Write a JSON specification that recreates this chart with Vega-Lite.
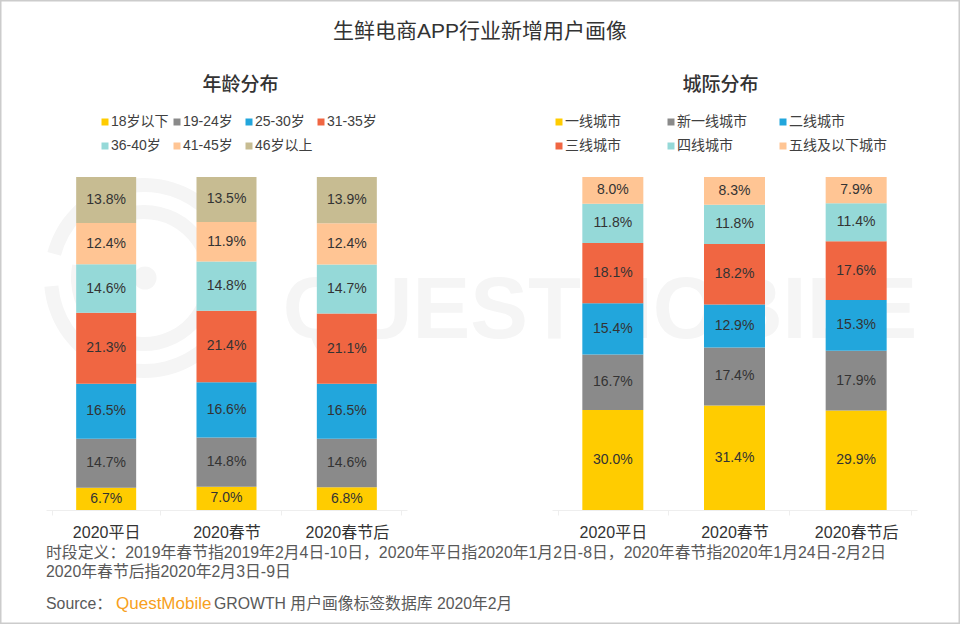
{"$schema":"https://vega.github.io/schema/vega-lite/v6.json","padding":0,"background":"#ffffff","width":960,"height":624,"view":{"stroke":"#cccccc","strokeWidth":3},"config":{"font":"Liberation Sans, Noto Sans CJK SC","text":{"font":"Liberation Sans, Noto Sans CJK SC"},"title":{"font":"Liberation Sans, Noto Sans CJK SC"}},"title":{"text":"生鲜电商APP行业新增用户画像","orient":"top","frame":"group","anchor":"middle","offset":0,"dy":53,"baseline":"middle","fontSize":21,"fontWeight":"normal","color":"#333333"},"datasets":{"mark":[{"mark":"QUESTMOBILE"}],"age":[{"period":"2020平日","group":"18岁以下","rank":1,"share":0.067},{"period":"2020平日","group":"19-24岁","rank":2,"share":0.147},{"period":"2020平日","group":"25-30岁","rank":3,"share":0.165},{"period":"2020平日","group":"31-35岁","rank":4,"share":0.213},{"period":"2020平日","group":"36-40岁","rank":5,"share":0.146},{"period":"2020平日","group":"41-45岁","rank":6,"share":0.124},{"period":"2020平日","group":"46岁以上","rank":7,"share":0.138},{"period":"2020春节","group":"18岁以下","rank":1,"share":0.07},{"period":"2020春节","group":"19-24岁","rank":2,"share":0.148},{"period":"2020春节","group":"25-30岁","rank":3,"share":0.166},{"period":"2020春节","group":"31-35岁","rank":4,"share":0.214},{"period":"2020春节","group":"36-40岁","rank":5,"share":0.148},{"period":"2020春节","group":"41-45岁","rank":6,"share":0.119},{"period":"2020春节","group":"46岁以上","rank":7,"share":0.135},{"period":"2020春节后","group":"18岁以下","rank":1,"share":0.068},{"period":"2020春节后","group":"19-24岁","rank":2,"share":0.146},{"period":"2020春节后","group":"25-30岁","rank":3,"share":0.165},{"period":"2020春节后","group":"31-35岁","rank":4,"share":0.211},{"period":"2020春节后","group":"36-40岁","rank":5,"share":0.147},{"period":"2020春节后","group":"41-45岁","rank":6,"share":0.124},{"period":"2020春节后","group":"46岁以上","rank":7,"share":0.139}],"city":[{"period":"2020平日","group":"一线城市","rank":1,"share":0.3},{"period":"2020平日","group":"新一线城市","rank":2,"share":0.167},{"period":"2020平日","group":"二线城市","rank":3,"share":0.154},{"period":"2020平日","group":"三线城市","rank":4,"share":0.181},{"period":"2020平日","group":"四线城市","rank":5,"share":0.118},{"period":"2020平日","group":"五线及以下城市","rank":6,"share":0.08},{"period":"2020春节","group":"一线城市","rank":1,"share":0.314},{"period":"2020春节","group":"新一线城市","rank":2,"share":0.174},{"period":"2020春节","group":"二线城市","rank":3,"share":0.129},{"period":"2020春节","group":"三线城市","rank":4,"share":0.182},{"period":"2020春节","group":"四线城市","rank":5,"share":0.118},{"period":"2020春节","group":"五线及以下城市","rank":6,"share":0.083},{"period":"2020春节后","group":"一线城市","rank":1,"share":0.299},{"period":"2020春节后","group":"新一线城市","rank":2,"share":0.179},{"period":"2020春节后","group":"二线城市","rank":3,"share":0.153},{"period":"2020春节后","group":"三线城市","rank":4,"share":0.176},{"period":"2020春节后","group":"四线城市","rank":5,"share":0.114},{"period":"2020春节后","group":"五线及以下城市","rank":6,"share":0.079}],"foot":[{"line":"l1","part":"lead","text":"时段定义：2019年春节指2019年2月4日-10日，2020年平日指2020年1月2日-8日，2020年春节指2020年1月24日-2月2日"},{"line":"l2","part":"lead","text":"2020年春节后指2020年2月3日-9日"},{"line":"l3","part":"lead","text":"Source："},{"line":"l3","part":"qm","text":"QuestMobile"},{"line":"l3","part":"rest","text":"GROWTH 用户画像标签数据库 2020年2月"}]},"resolve":{"scale":{"x":"independent","y":"independent","color":"independent"},"axis":{"x":"independent","y":"independent"},"legend":{"color":"independent"}},"layer":[{"data":{"name":"mark"},"mark":{"type":"text","font":"Liberation Sans","fontWeight":"bold","fontSize":86.5,"color":"#f5f5f5","dx":120,"dy":0},"encoding":{"text":{"field":"mark","type":"nominal"}}},{"data":{"name":"mark"},"mark":{"type":"arc","color":"#f5f5f5","radius":100,"radius2":86,"theta":-1.309,"theta2":4.625,"xOffset":-336,"yOffset":-34}},{"data":{"name":"mark"},"mark":{"type":"arc","color":"#f5f5f5","radius":73,"radius2":59,"theta":-1.0,"theta2":4.9,"xOffset":-336,"yOffset":-34}},{"data":{"name":"mark"},"mark":{"type":"point","filled":true,"opacity":1,"shape":"circle","color":"#f5f5f5","size":531,"xOffset":-335,"yOffset":-34}},{"data":{"name":"age"},"encoding":{"x":{"field":"period","type":"nominal","sort":["2020平日","2020春节","2020春节后"],"scale":{"range":[46,407]},"axis":{"orient":"bottom","offset":-114,"title":"年龄分布","titleX":240,"titleY":-426,"titleBaseline":"middle","titleAlign":"center","titleFontSize":19,"titleFontWeight":500,"titleColor":"#333333","titleFont":"Liberation Sans, Noto Sans CJK SC","labelAngle":0,"tickBand":"extent","domainColor":"#eeeeee","tickColor":"#eeeeee","tickSize":5,"labelFontSize":16,"labelColor":"#333333","labelPadding":9,"labelFont":"Liberation Sans, Noto Sans CJK SC"}},"y":{"field":"share","type":"quantitative","stack":"zero","scale":{"domain":[0,1],"range":[510,177]},"axis":null},"order":{"field":"rank","type":"quantitative"}},"layer":[{"mark":{"type":"bar","width":60},"encoding":{"color":{"field":"group","type":"nominal","scale":{"domain":["18岁以下","19-24岁","25-30岁","31-35岁","36-40岁","41-45岁","46岁以上"],"range":["#FFCC00","#8A8A8A","#22A6DC","#F06642","#95D9D8","#FFC594","#C7BC92"]},"legend":{"title":null,"orient":"none","direction":"horizontal","legendX":98,"legendY":115,"columns":4,"gridAlign":"all","columnPadding":1,"rowPadding":10,"symbolType":"square","symbolSize":49,"symbolStrokeWidth":0,"labelFontSize":14,"labelColor":"#404040","labelLimit":200,"labelOffset":-1,"labelFont":"Liberation Sans, Noto Sans CJK SC"}}}},{"mark":{"type":"text","fontSize":14,"color":"#333333","font":"Liberation Sans, Noto Sans CJK SC"},"encoding":{"y":{"field":"share","type":"quantitative","stack":"zero","bandPosition":0.5,"scale":{"domain":[0,1],"range":[510,177]},"axis":null},"text":{"field":"share","type":"quantitative","format":".1%"},"detail":{"field":"group","type":"nominal"}}}]},{"data":{"name":"city"},"encoding":{"x":{"field":"period","type":"nominal","sort":["2020平日","2020春节","2020春节后"],"scale":{"range":[552,917]},"axis":{"orient":"bottom","offset":-114,"title":"城际分布","titleX":720,"titleY":-426,"titleBaseline":"middle","titleAlign":"center","titleFontSize":19,"titleFontWeight":500,"titleColor":"#333333","titleFont":"Liberation Sans, Noto Sans CJK SC","labelAngle":0,"tickBand":"extent","domainColor":"#eeeeee","tickColor":"#eeeeee","tickSize":5,"labelFontSize":16,"labelColor":"#333333","labelPadding":9,"labelFont":"Liberation Sans, Noto Sans CJK SC"}},"y":{"field":"share","type":"quantitative","stack":"zero","scale":{"domain":[0,1],"range":[510,177]},"axis":null},"order":{"field":"rank","type":"quantitative"}},"layer":[{"mark":{"type":"bar","width":61},"encoding":{"color":{"field":"group","type":"nominal","scale":{"domain":["一线城市","新一线城市","二线城市","三线城市","四线城市","五线及以下城市"],"range":["#FFCC00","#8A8A8A","#22A6DC","#F06642","#95D9D8","#FFC594"]},"legend":{"title":null,"orient":"none","direction":"horizontal","legendX":552,"legendY":115,"columns":3,"gridAlign":"all","columnPadding":1,"rowPadding":10,"symbolType":"square","symbolSize":49,"symbolStrokeWidth":0,"labelFontSize":14,"labelColor":"#404040","labelLimit":200,"labelOffset":-1,"labelFont":"Liberation Sans, Noto Sans CJK SC"}}}},{"mark":{"type":"text","fontSize":14,"color":"#333333","font":"Liberation Sans, Noto Sans CJK SC"},"encoding":{"y":{"field":"share","type":"quantitative","stack":"zero","bandPosition":0.5,"scale":{"domain":[0,1],"range":[510,177]},"axis":null},"text":{"field":"share","type":"quantitative","format":".1%"},"detail":{"field":"group","type":"nominal"}}}]},{"data":{"name":"foot"},"encoding":{"x":{"field":"part","type":"nominal","scale":{"type":"point","padding":0,"domain":["lead","qm","rest"],"range":[46,214]},"axis":null},"y":{"field":"line","type":"nominal","scale":{"type":"point","padding":0,"domain":["l1","l2","l3"],"range":[553,591]},"axis":null},"text":{"field":"text","type":"nominal"}},"layer":[{"transform":[{"filter":"datum.line !== 'l3'"}],"mark":{"type":"text","align":"left","baseline":"middle","fontSize":15.85,"color":"#595959"}},{"transform":[{"filter":"datum.line === 'l3' && datum.part === 'lead'"}],"mark":{"type":"text","align":"left","baseline":"middle","fontSize":15.85,"color":"#595959","dy":13}},{"transform":[{"filter":"datum.part === 'qm'"}],"mark":{"type":"text","align":"left","baseline":"middle","fontSize":17,"color":"#F7A020","dx":-14,"dy":13}},{"transform":[{"filter":"datum.part === 'rest'"}],"mark":{"type":"text","align":"left","baseline":"middle","fontSize":15.8,"color":"#595959","dy":13}}]}]}
